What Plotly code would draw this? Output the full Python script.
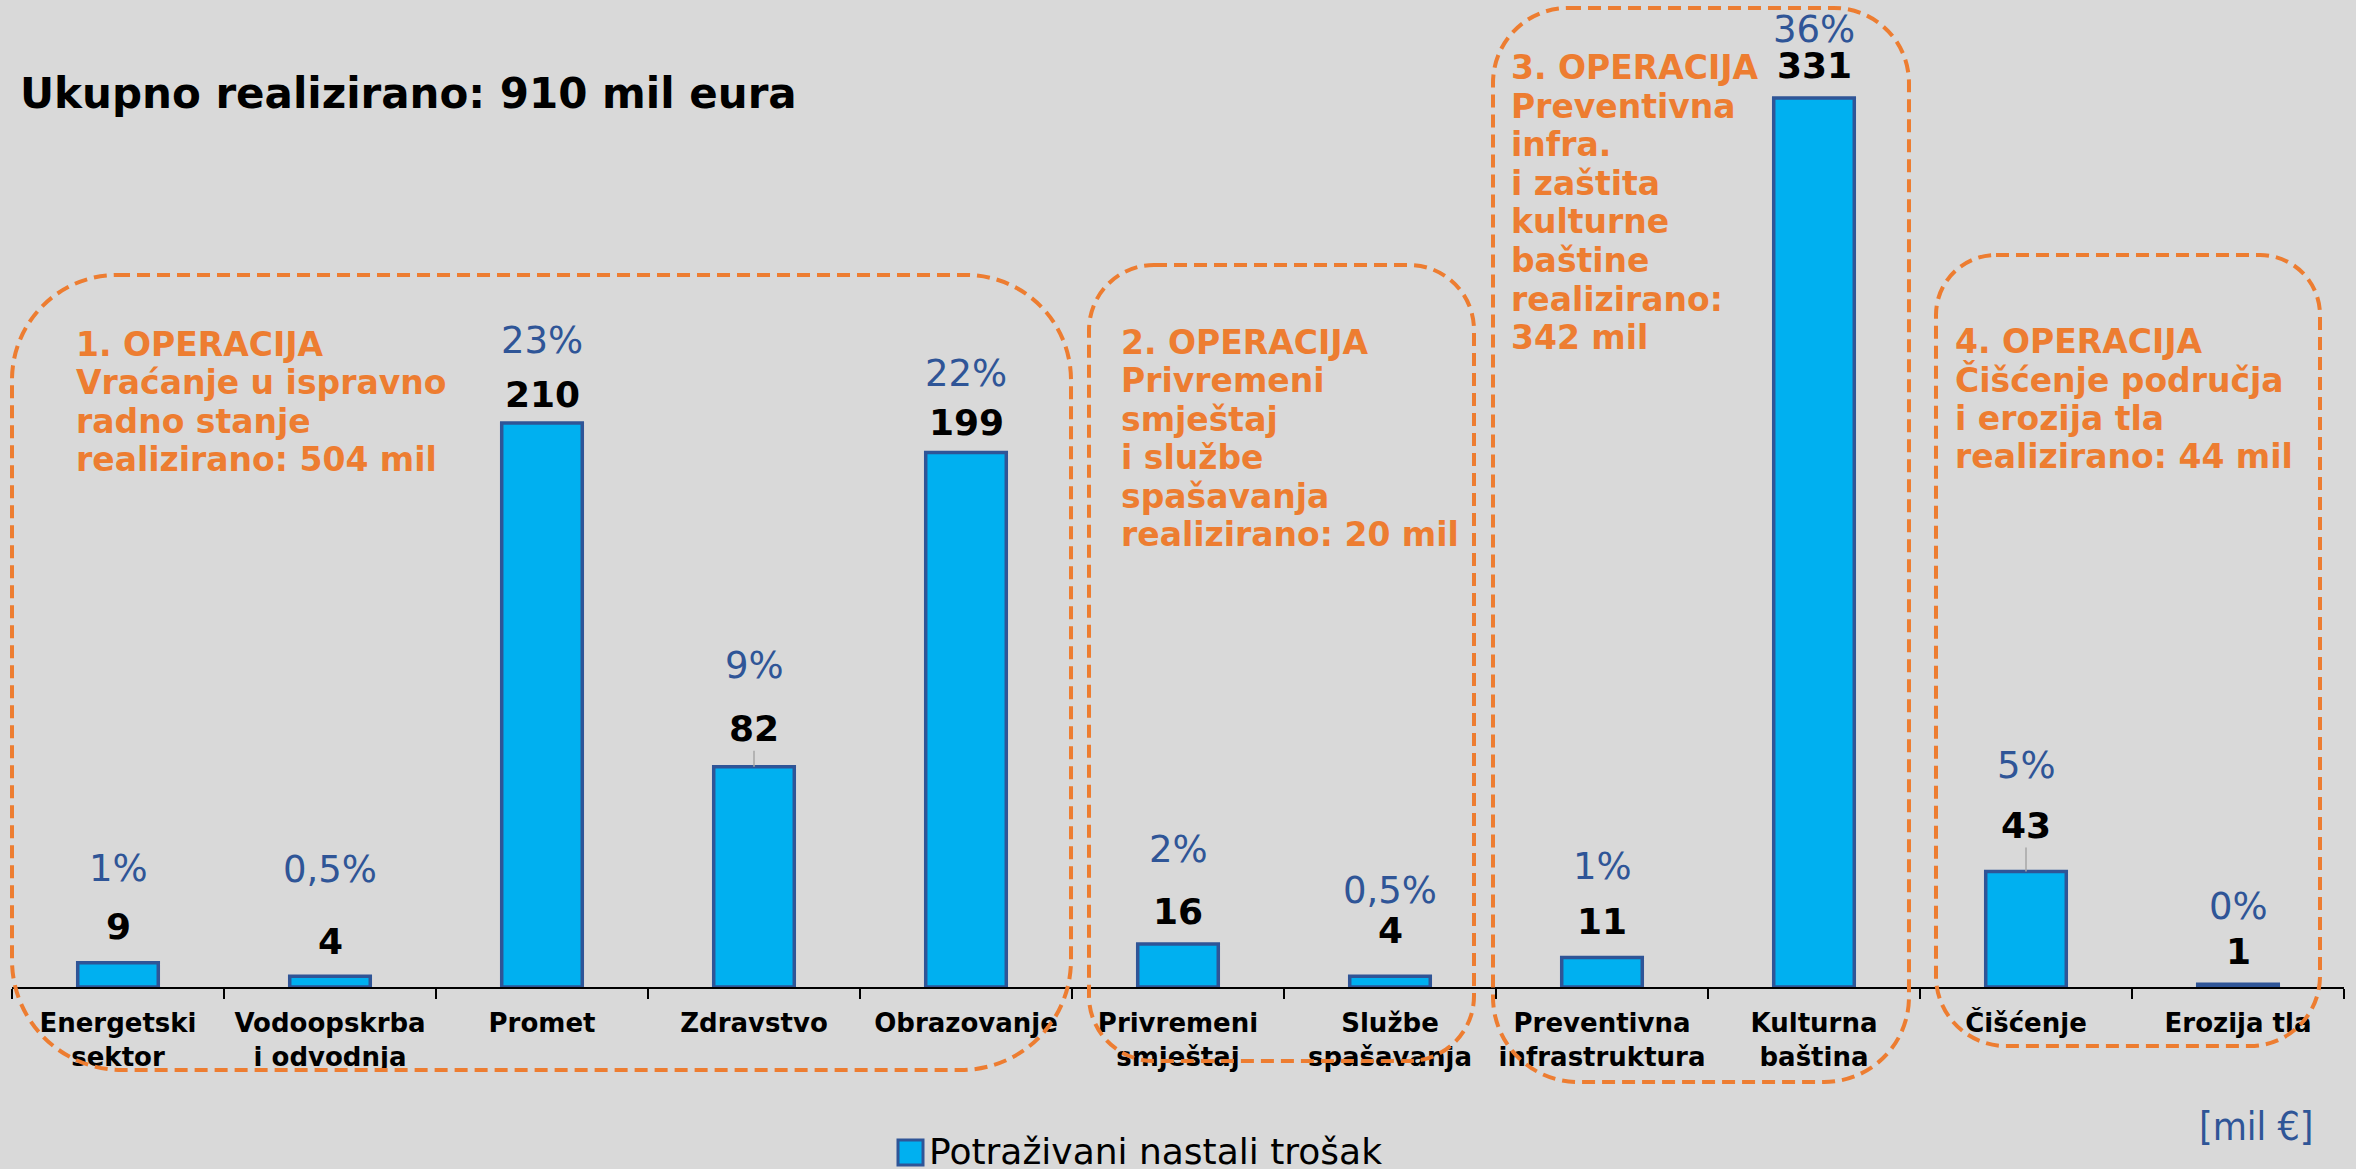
import plotly.graph_objects as go

# data
categories = ["Energetski<br>sektor", "Vodoopskrba<br>i odvodnja", "Promet", "Zdravstvo", "Obrazovanje",
              "Privremeni<br>smještaj", "Službe<br>spašavanja", "Preventivna<br>infrastruktura",
              "Kulturna<br>baština", "Čišćenje", "Erozija tla"]
values = [9, 4, 210, 82, 199, 16, 4, 11, 331, 43, 1]
shares = ["1%", "0,5%", "23%", "9%", "22%", "2%", "0,5%", "1%", "36%", "5%", "0%"]
series_name = "Potraživani nastali trošak"
title_text = "Ukupno realizirano: 910 mil eura"
unit_text = "[mil €]"

op1_lines = ["1. OPERACIJA", "Vraćanje u ispravno", "radno stanje", "realizirano: 504 mil"]
op2_lines = ["2. OPERACIJA", "Privremeni", "smještaj", "i službe", "spašavanja", "realizirano: 20 mil"]
op3_lines = ["3. OPERACIJA", "Preventivna", "infra.", "i zaštita", "kulturne", "baštine",
             "realizirano:", "342 mil"]
op4_lines = ["4. OPERACIJA", "Čišćenje područja", "i erozija tla", "realizirano: 44 mil"]

# label placement (pixels above the bar top)
value_offsets = [36, 35, 28, 38, 30, 33, 46, 36, 32, 46, 33]
share_offsets = [94, 107, 82, 101, 79, 95, 86, 91, 68, 106, 78]
leader = [False, False, False, True, False, False, False, False, False, True, False]

W, H = 2356, 1169
L, R, T, B = 12, 12, 20, 182
PW, PH = W - L - R, H - T - B

FONT = "DejaVu Sans"
NARROW = "Liberation Sans Narrow, DejaVu Sans Condensed, Liberation Sans"
ORANGE = "#ED7D31"
BLUE = "#2F5597"
BG = "#D9D9D9"


def px(x):
    return (x - L) / PW


def py(y):
    return (H - B - y) / PH


def rounded_box(x0, y0, x1, y1, rt, rb):
    k = 0.5523
    pts = [
        ("M", [(x0 + rt, y0)]),
        ("L", [(x1 - rt, y0)]),
        ("C", [(x1 - rt + k * rt, y0), (x1, y0 + rt - k * rt), (x1, y0 + rt)]),
        ("L", [(x1, y1 - rb)]),
        ("C", [(x1, y1 - rb + k * rb), (x1 - rb + k * rb, y1), (x1 - rb, y1)]),
        ("L", [(x0 + rb, y1)]),
        ("C", [(x0 + rb - k * rb, y1), (x0, y1 - rb + k * rb), (x0, y1 - rb)]),
        ("L", [(x0, y0 + rt)]),
        ("C", [(x0, y0 + rt - k * rt), (x0 + rt - k * rt, y0), (x0 + rt, y0)]),
    ]
    d = ""
    for cmd, ps in pts:
        d += cmd + " ".join(f"{px(a):.5f},{py(b):.5f}" for a, b in ps) + " "
    return d + "Z"


fig = go.Figure()
fig.add_trace(go.Bar(
    x=categories, y=values, width=0.38, name=series_name,
    marker=dict(color="#00B0F0", line=dict(color=BLUE, width=3.5)),
    showlegend=False, hoverinfo="x+y",
))

# value and share labels
for c, v, s, vo, so, ld in zip(categories, values, shares, value_offsets, share_offsets, leader):
    fig.add_annotation(x=c, y=v, text=str(v), showarrow=True, ax=0, ay=-vo, standoff=0,
                       arrowhead=0, arrowwidth=1.5,
                       arrowcolor="#A6A6A6" if ld else "rgba(0,0,0,0)",
                       font=dict(family=FONT, size=36, color="black", weight="bold"))
    fig.add_annotation(x=c, y=v, text=s, showarrow=False, yshift=so, yanchor="middle",
                       font=dict(family=FONT, size=37, color=BLUE))

# dashed operation boxes
for box in [(12, 275, 1071, 1070, 105, 110), (1089, 265, 1474, 1061, 65, 65),
            (1493, 8, 1909, 1082, 75, 85), (1936, 255, 2320, 1046, 60, 70)]:
    fig.add_shape(type="path", xref="paper", yref="paper", path=rounded_box(*box),
                  line=dict(color=ORANGE, width=4, dash="13px,7px"))


def add_block(x, base, lines, pitch=38.5):
    for i, t in enumerate(lines):
        cy = base + i * pitch - 12
        fig.add_annotation(xref="paper", yref="paper", x=px(x), y=py(cy), text=t,
                           showarrow=False, xanchor="left", yanchor="middle",
                           font=dict(family=FONT, size=33, color=ORANGE, weight="bold"))


add_block(74, 356, op1_lines)
add_block(1119, 354, op2_lines)
add_block(1509, 80, op3_lines)
add_block(1953, 353, op4_lines)

# title
fig.add_annotation(xref="paper", yref="paper", x=px(18), y=py(94), text=title_text,
                   showarrow=False, xanchor="left", yanchor="middle",
                   font=dict(family=FONT, size=42, color="black", weight="bold"))

# unit
fig.add_annotation(xref="paper", yref="paper", x=px(2316), y=py(1126), text=unit_text,
                   showarrow=False, xanchor="right", yanchor="middle",
                   font=dict(family=NARROW, size=39, color=BLUE))

# legend (drawn by hand to get a large swatch)
fig.add_shape(type="rect", xref="paper", yref="paper", x0=px(898), x1=px(923), y0=py(1140), y1=py(1165),
              fillcolor="#00B0F0", line=dict(color=BLUE, width=3))
fig.add_annotation(xref="paper", yref="paper", x=px(927), y=py(1151), text=series_name,
                   showarrow=False, xanchor="left", yanchor="middle",
                   font=dict(family=FONT, size=36, color="black"))

fig.update_xaxes(type="category", range=[-0.5, 10.5], tickson="boundaries", ticks="outside",
                 ticklen=10, tickwidth=1.5, tickcolor="black", showline=True, linecolor="black",
                 linewidth=2, showgrid=False, tickangle=0, ticklabelstandoff=12,
                 tickfont=dict(family=FONT, size=26, color="black", weight="bold"))
fig.update_yaxes(visible=False, range=[0, 360], showgrid=False, zeroline=False)

fig.update_layout(width=W, height=H, margin=dict(l=L, r=R, t=T, b=B, autoexpand=False),
                  paper_bgcolor=BG, plot_bgcolor=BG, showlegend=False,
                  font=dict(family=FONT))

fig.write_html("out.html", config={"displayModeBar": False},
               post_script="document.body.style.margin='0';document.body.style.overflow='hidden';")
